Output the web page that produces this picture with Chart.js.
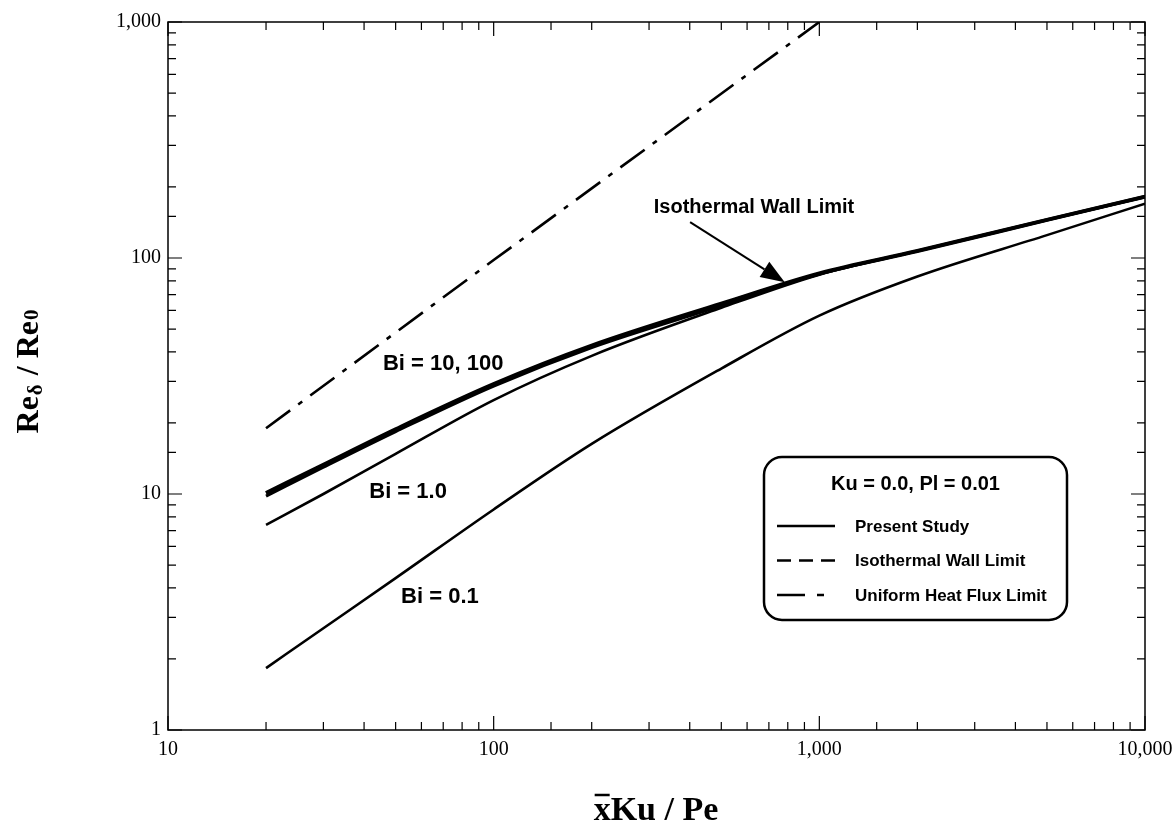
<!DOCTYPE html>
<html>
<head>
<meta charset="utf-8">
<script src="https://cdn.jsdelivr.net/npm/chart.js@4"></script>
<style>
  html, body { margin: 0; padding: 0; background: #fff; }
  #wrap { width: 1176px; height: 827px; }
</style>
</head>
<body>
<div id="wrap"><canvas id="myChart" width="1176" height="827"></canvas></div>
<script>
(() => {
    'use strict'

    // x values (xKu / Pe) shared by the Bi curves
    const xVals = [20, 30, 50, 100, 200, 500, 1000, 2000, 5000, 10000];
    const bi100 = [10.1, 13.3, 18.8, 29.2, 42.5, 64, 86, 107, 145, 182];
    const bi10 = [9.8, 13.0, 18.4, 28.7, 41.8, 62.8, 85.5, 107, 145, 182];
    const bi1 = [7.4, 10.0, 14.8, 25.0, 38.5, 61.5, 85, 107, 145, 181];
    const bi01 = [1.83, 2.7, 4.4, 8.6, 16.3, 34, 57, 83.5, 125, 170];
    const isoWall = [10.1, 13.3, 18.8, 29.2, 42.5, 64, 86, 107, 145, 182];

    // uniform heat flux limit
    const fluxX = [20, 100, 1000];
    const fluxY = [19, 98, 1000];

    const xTickLabels = { 10: '10', 100: '100', 1000: '1,000', 10000: '10,000' };
    const yTickLabels = { 1: '1', 10: '10', 100: '100', 1000: '1,000' };

    const legendTitle = 'Ku = 0.0, Pl = 0.01';
    const legendItems = ['Present Study', 'Isothermal Wall Limit', 'Uniform Heat Flux Limit'];

    // curve labels: [text, x, y] in data units
    const curveLabels = [
        ['Bi = 10, 100', 70, 35.5],
        ['Bi = 1.0', 54.6, 10.2],
        ['Bi = 0.1', 68.4, 3.66]
    ];
    const isoLabel = ['Isothermal Wall Limit', 630, 164];
    const arrowFrom = [401, 142];
    const arrowTo = [783, 79];

    const pts = (xs, ys) => xs.map((v, i) => ({ x: v, y: ys[i] }));
    const isPow10 = v => Math.abs(Math.log10(v) - Math.round(Math.log10(v))) < 1e-9;

    const solid = (data, w) => ({
        data: data,
        borderColor: '#000',
        borderWidth: w,
        pointRadius: 0,
        fill: false,
        cubicInterpolationMode: 'monotone'
    });

    const decorations = {
        id: 'decorations',
        afterDraw(chart) {
            const { ctx, chartArea: a, scales: { x, y } } = chart;
            ctx.save();
            ctx.strokeStyle = '#000';
            ctx.fillStyle = '#000';

            // frame
            ctx.lineWidth = 1.5;
            ctx.strokeRect(a.left, a.top, a.right - a.left, a.bottom - a.top);

            // inward ticks on all four sides
            ctx.lineWidth = 1.2;
            ctx.beginPath();
            x.ticks.forEach(t => {
                const px = x.getPixelForValue(t.value);
                const len = isPow10(t.value) ? 14 : 8;
                ctx.moveTo(px, a.bottom); ctx.lineTo(px, a.bottom - len);
                ctx.moveTo(px, a.top); ctx.lineTo(px, a.top + len);
            });
            y.ticks.forEach(t => {
                const py = y.getPixelForValue(t.value);
                const len = isPow10(t.value) ? 14 : 8;
                ctx.moveTo(a.left, py); ctx.lineTo(a.left + len, py);
                ctx.moveTo(a.right, py); ctx.lineTo(a.right - len, py);
            });
            ctx.stroke();

            // curve labels
            ctx.font = 'bold 22px "Liberation Sans", Arial, sans-serif';
            ctx.textAlign = 'center';
            ctx.textBaseline = 'middle';
            curveLabels.forEach(l => {
                ctx.fillText(l[0], x.getPixelForValue(l[1]), y.getPixelForValue(l[2]));
            });
            ctx.font = 'bold 20px "Liberation Sans", Arial, sans-serif';
            ctx.fillText(isoLabel[0], x.getPixelForValue(isoLabel[1]), y.getPixelForValue(isoLabel[2]));

            // arrow
            const x0 = x.getPixelForValue(arrowFrom[0]), y0 = y.getPixelForValue(arrowFrom[1]);
            const x1 = x.getPixelForValue(arrowTo[0]), y1 = y.getPixelForValue(arrowTo[1]);
            const ang = Math.atan2(y1 - y0, x1 - x0);
            const hl = 24, hw = 9;
            const bx = x1 - hl * Math.cos(ang), by = y1 - hl * Math.sin(ang);
            ctx.lineWidth = 2;
            ctx.beginPath();
            ctx.moveTo(x0, y0); ctx.lineTo(bx, by);
            ctx.stroke();
            ctx.beginPath();
            ctx.moveTo(x1, y1);
            ctx.lineTo(bx + hw * Math.sin(ang), by - hw * Math.cos(ang));
            ctx.lineTo(bx - hw * Math.sin(ang), by + hw * Math.cos(ang));
            ctx.closePath();
            ctx.fill();

            // legend box
            const lx = 764, ly = 457, lw = 303, lh = 163, r = 18;
            ctx.lineWidth = 2.5;
            ctx.beginPath();
            ctx.roundRect(lx, ly, lw, lh, r);
            ctx.stroke();
            ctx.font = 'bold 20px "Liberation Sans", Arial, sans-serif';
            ctx.textAlign = 'center';
            ctx.fillText(legendTitle, lx + lw / 2, 484);
            const dashes = [[], [14, 8], [28, 12, 7, 100]];
            ctx.font = 'bold 17px "Liberation Sans", Arial, sans-serif';
            ctx.textAlign = 'left';
            legendItems.forEach((txt, i) => {
                const ry = 526 + i * 34.5;
                ctx.lineWidth = 2.5;
                ctx.setLineDash(dashes[i]);
                ctx.beginPath();
                ctx.moveTo(777, ry); ctx.lineTo(835, ry);
                ctx.stroke();
                ctx.setLineDash([]);
                ctx.fillText(txt, 855, ry + 1);
            });

            // x axis title: x-bar Ku / Pe
            ctx.font = 'bold 34px "Liberation Serif", "Times New Roman", serif';
            ctx.textBaseline = 'alphabetic';
            const xt1 = 'x', xt2 = 'Ku / Pe';
            const w1 = ctx.measureText(xt1).width, w2 = ctx.measureText(xt2).width;
            const cx = 656;
            const sx = cx - (w1 + w2) / 2;
            const base = 820;
            ctx.textAlign = 'left';
            ctx.fillText(xt1, sx, base);
            ctx.lineWidth = 2.5;
            ctx.beginPath();
            ctx.moveTo(sx + 1, base - 25); ctx.lineTo(sx + w1 - 1, base - 25);
            ctx.stroke();
            ctx.fillText(xt2, sx + w1, base);

            // y axis title: Re_delta / Re_0
            ctx.translate(38, 371);
            ctx.rotate(-Math.PI / 2);
            const big = 'bold 32px "Liberation Serif", "Times New Roman", serif';
            const small = 'bold 21px "Liberation Serif", "Times New Roman", serif';
            const parts = [['Re', big, 0], ['\u03b4', small, 4], [' / Re', big, 0], ['0', small, 0]];
            let total = 0;
            parts.forEach(p => { ctx.font = p[1]; total += ctx.measureText(p[0]).width + (p[1] === small ? 2 : 0); });
            let px = -total / 2;
            parts.forEach(p => {
                ctx.font = p[1];
                ctx.fillText(p[0], px + (p[1] === small ? 1 : 0), p[2]);
                px += ctx.measureText(p[0]).width + (p[1] === small ? 2 : 0);
            });

            ctx.restore();
        }
    };

    const ctx = document.getElementById('myChart');

    new Chart(ctx, {
        type: 'line',
        data: {
            datasets: [
                solid(pts(xVals, bi100), 4),
                solid(pts(xVals, bi10), 3.2),
                solid(pts(xVals, bi1), 2.6),
                solid(pts(xVals, bi01), 2.6),
                Object.assign(solid(pts(xVals, isoWall), 2.5), { borderDash: [14, 8] }),
                Object.assign(solid(pts(fluxX, fluxY), 2.6), { borderDash: [30, 10, 5, 10], cubicInterpolationMode: 'default', tension: 0 })
            ]
        },
        options: {
            responsive: false,
            animation: false,
            layout: { padding: { left: 0, top: 22, right: 31, bottom: 0 } },
            plugins: {
                legend: { display: false },
                tooltip: { enabled: false }
            },
            scales: {
                x: {
                    type: 'logarithmic',
                    min: 10,
                    max: 10000,
                    afterFit: s => { s.height = 97; s.paddingRight = 0; s.paddingLeft = 0; },
                    grid: { display: false, drawTicks: false },
                    border: { display: false },
                    ticks: {
                        autoSkip: false,
                        maxRotation: 0,
                        padding: 8,
                        color: '#000',
                        font: { family: '"Liberation Serif", "Times New Roman", serif', size: 20 },
                        callback: v => xTickLabels[v] || ''
                    }
                },
                y: {
                    type: 'logarithmic',
                    min: 1,
                    max: 1000,
                    afterFit: s => { s.width = 168; s.paddingTop = 0; s.paddingBottom = 0; },
                    grid: { display: false, drawTicks: false },
                    border: { display: false },
                    ticks: {
                        autoSkip: false,
                        padding: 7,
                        color: '#000',
                        font: { family: '"Liberation Serif", "Times New Roman", serif', size: 20 },
                        callback: v => yTickLabels[v] || ''
                    }
                }
            }
        },
        plugins: [decorations]
    });
})()
</script>
</body>
</html>
